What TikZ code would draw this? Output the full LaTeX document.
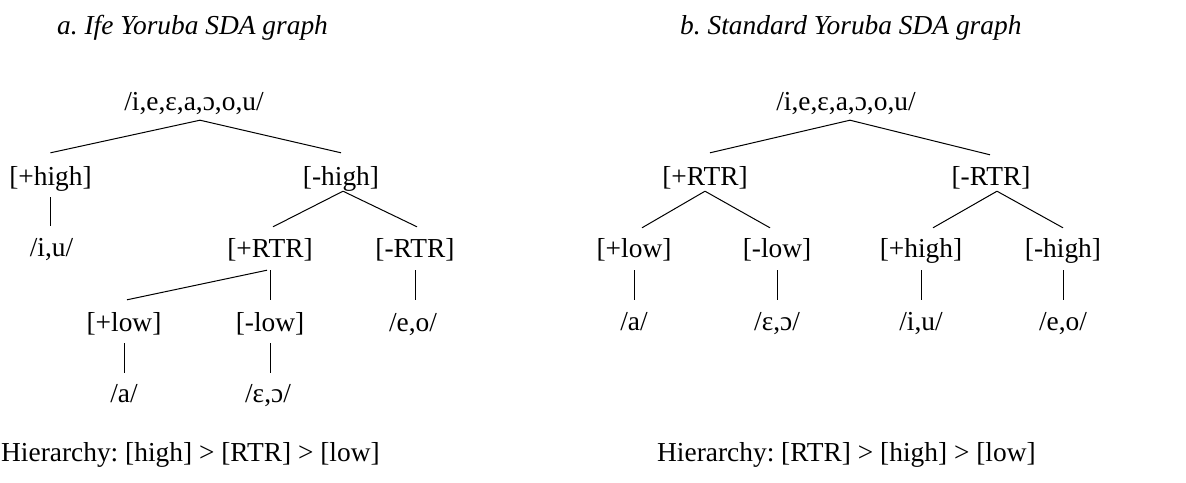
\documentclass[tikz,border=0pt]{standalone}
\usepackage{fontspec}
\setmainfont{Liberation Serif}
\frenchspacing
\begin{document}
\begin{tikzpicture}[x=1pt,y=-1pt,
  lab/.style={anchor=base,inner sep=0pt,text height=19pt,text depth=6pt,font=\fontsize{27.4}{33}\selectfont},
  ttl/.style={anchor=base west,inner sep=0pt,font=\fontsize{27.4}{33}\selectfont\itshape},
  hier/.style={anchor=base west,inner sep=0pt,font=\fontsize{27.4}{33}\selectfont},
  edge/.style={line width=1pt}]
\useasboundingbox (0,0) rectangle (1186,482);
% ---------- a ----------
\node[ttl] (tA) at (57,34) {a. Ife Yoruba SDA graph};
\node[lab] (rootA) at (194,110) {/i,e,ɛ,a,ɔ,o,u/};
\node[lab] (hpA) at (50.5,185) {[+high]};
\node[lab] (hmA) at (341,185) {[-high]};
\node[lab] (iuA) at (51.5,256) {/i,u/};
\node[lab] (rpA) at (270,257) {[+RTR]};
\node[lab] (rmA) at (415,257) {[-RTR]};
\node[lab] (lpA) at (124,331) {[+low]};
\node[lab] (lmA) at (270,331) {[-low]};
\node[lab] (eoA) at (413,331) {/e,o/};
\node[lab] (aA) at (124,402) {/a/};
\node[lab] (ocA) at (268,402) {/ɛ,ɔ/};
\node[hier] (hA) at (1,461) {Hierarchy: [high] > [RTR] > [low]};
\draw[edge] ([xshift=6pt,yshift=-4pt]rootA.south) -- ([yshift=13pt]hpA.north);
\draw[edge] ([xshift=6pt,yshift=-4pt]rootA.south) -- ([yshift=13pt]hmA.north);
\draw[edge] ([yshift=-6pt]hpA.south) -- ([yshift=11pt]hpA.south |- iuA.north);
\draw[edge] ([xshift=2pt]hmA.south) -- ([xshift=3pt,yshift=11pt]rpA.north);
\draw[edge] ([xshift=2pt]hmA.south) -- ([xshift=2pt,yshift=11pt]rmA.north);
\draw[edge] ([xshift=-3pt,yshift=-7pt]rpA.south) -- ([xshift=3pt,yshift=12pt]lpA.north);
\draw[edge] ([yshift=-7pt]rpA.south) -- ([yshift=12pt]rpA.south |- lmA.north);
\draw[edge] ([yshift=-7pt]rmA.south) -- ([yshift=12pt]rmA.south |- eoA.north);
\draw[edge] ([yshift=-6pt]lpA.south) -- ([yshift=10pt]lpA.south |- aA.north);
\draw[edge] ([yshift=-6pt]lmA.south) -- ([yshift=10pt]lmA.south |- ocA.north);
% ---------- b ----------
\node[ttl] (tB) at (680,34) {b. Standard Yoruba SDA graph};
\node[lab] (rootB) at (846,110) {/i,e,ɛ,a,ɔ,o,u/};
\node[lab] (rpB) at (705,185) {[+RTR]};
\node[lab] (rmB) at (991,185) {[-RTR]};
\node[lab] (lpB) at (634,257) {[+low]};
\node[lab] (lmB) at (777,257) {[-low]};
\node[lab] (hpB) at (921,257) {[+high]};
\node[lab] (hmB) at (1063,257) {[-high]};
\node[lab] (aB) at (634,330) {/a/};
\node[lab] (ocB) at (777,330) {/ɛ,ɔ/};
\node[lab] (iuB) at (921,330) {/i,u/};
\node[lab] (eoB) at (1063,330) {/e,o/};
\node[hier] (hB) at (657,461) {Hierarchy: [RTR] > [high] > [low]};
\draw[edge] ([xshift=4pt,yshift=-4pt]rootB.south) -- ([xshift=5pt,yshift=13pt]rpB.north);
\draw[edge] ([xshift=4pt,yshift=-4pt]rootB.south) -- ([xshift=-1pt,yshift=11pt]rmB.north);
\draw[edge] (rpB.south) -- ([xshift=8pt,yshift=10pt]lpB.north);
\draw[edge] (rpB.south) -- ([xshift=-7pt,yshift=10pt]lmB.north);
\draw[edge] ([xshift=6pt]rmB.south) -- ([xshift=12pt,yshift=10pt]hpB.north);
\draw[edge] ([xshift=6pt]rmB.south) -- ([yshift=10pt]hmB.north);
\draw[edge] ([yshift=-7pt]lpB.south) -- ([yshift=11pt]lpB.south |- aB.north);
\draw[edge] ([yshift=-7pt]lmB.south) -- ([yshift=11pt]lmB.south |- ocB.north);
\draw[edge] ([yshift=-7pt]hpB.south) -- ([yshift=11pt]hpB.south |- iuB.north);
\draw[edge] ([yshift=-7pt]hmB.south) -- ([yshift=11pt]hmB.south |- eoB.north);
\end{tikzpicture}
\end{document}
